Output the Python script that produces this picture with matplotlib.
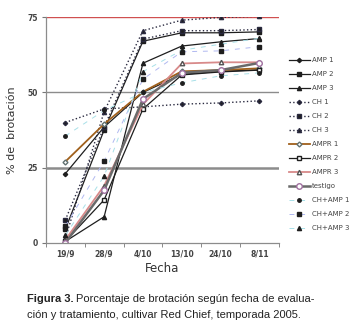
import matplotlib
matplotlib.use('Agg')
import matplotlib.pyplot as plt
import numpy as np

# fechas de evaluacion y porcentaje de brotacion por tratamiento
fechas = ['19/9', '28/9', '4/10', '13/10', '24/10', '8/11']

amp1 = [23, 38.5, 50, 56, 57, 57.5]
amp2 = [4.5, 37.5, 67, 69.8, 69.8, 70.1]
amp3 = [0.5, 8.7, 59.7, 65.4, 66.8, 67.9]
ch1 = [40, 44.5, 45.2, 46.1, 46.5, 47.2]
ch2 = [7.6, 38.5, 67.7, 70.5, 70.5, 70.9]
ch3 = [1.5, 43.6, 70.5, 74, 74.9, 75.3]
ampr1 = [27, 39.5, 50.2, 57, 57.4, 58]
ampr2 = [0.5, 14.3, 44.5, 55.8, 56.8, 57.4]
ampr3 = [1, 19, 46, 59.6, 60, 60]
testigo = [0, 17.5, 47.8, 56.5, 57.4, 59.8]
champ1 = [35.5, 44, 50, 53.2, 55.5, 56.5]
champ2 = [5.5, 27.2, 54.4, 63.5, 63.8, 65.2]
champ3 = [2.5, 22.2, 56.9, 64, 66, 68]

fig = plt.figure(figsize=(3.53, 3.36), dpi=100)
ax = fig.add_axes([0.130, 0.277, 0.660, 0.672])
x = np.arange(len(fechas))

dark = '#1e1e1e'
series = [
    ('AMP 1', amp1, dict(color=dark, ls='-', lw=0.9, marker='D', ms=2.2, mfc=dark)),
    ('AMP 2', amp2, dict(color=dark, ls='-', lw=0.9, marker='s', ms=3.5, mfc=dark)),
    ('AMP 3', amp3, dict(color=dark, ls='-', lw=0.9, marker='^', ms=3, mfc=dark)),
    ('CH 1', ch1, dict(color='#2a2a40', ls=':', lw=1.0, marker='D', ms=2.2, mfc=dark)),
    ('CH 2', ch2, dict(color='#2a2a40', ls=':', lw=1.0, marker='s', ms=3.5, mfc=dark)),
    ('CH 3', ch3, dict(color='#2a2a40', ls=':', lw=1.0, marker='^', ms=3, mfc=dark)),
    ('AMPR 1', ampr1, dict(color='#a0601c', ls='-', lw=1.3, marker='D', ms=2.5, mfc='white', mec='#607070')),
    ('AMPR 2', ampr2, dict(color=dark, ls='-', lw=0.9, marker='s', ms=3.5, mfc='white', mec=dark)),
    ('AMPR 3', ampr3, dict(color='#d88a8a', ls='-', lw=1.3, marker='^', ms=3.2, mfc='white', mec='#555555')),
    ('testigo', testigo, dict(color='#6a6a6a', ls='-', lw=1.8, marker='o', ms=4, mfc='white', mec='#a070a0')),
    ('CH+AMP 1', champ1, dict(color='#a8e0e8', ls=(0, (5, 6)), lw=0.7, marker='o', ms=2.5, mfc=dark, mec=dark)),
    ('CH+AMP 2', champ2, dict(color='#b0b8f0', ls=(0, (5, 6)), lw=0.7, marker='s', ms=3.5, mfc=dark, mec=dark)),
    ('CH+AMP 3', champ3, dict(color='#a8e0e8', ls=(0, (5, 6)), lw=0.7, marker='^', ms=3, mfc=dark, mec=dark)),
]

for name, vals, st in series:
    ax.plot(x, vals, label=name, **st)

# lineas horizontales de referencia
ax.axhline(25, color='#8c8c8c', lw=1.8, zorder=0)
ax.axhline(50, color='#8c8c8c', lw=1.0, zorder=0)
ax.axhline(75, color='#d05050', lw=1.0, zorder=0)

ax.set_xlim(-0.5, 5.5)
ax.set_ylim(0, 75)
ax.set_yticks([0, 25, 50, 75])
ax.set_xticks(x)
ax.set_xticklabels(fechas)
ax.set_xticks(np.arange(-0.5, 6, 1), minor=True)
ax.tick_params(axis='x', which='major', length=0, pad=5, labelsize=5.5, labelcolor='#444444')
ax.tick_params(axis='x', which='minor', length=3, color='#777777', direction='out')
ax.tick_params(axis='y', length=3, color='#777777', labelsize=5.5, labelcolor='#444444', pad=3)
for lab in ax.get_xticklabels() + ax.get_yticklabels():
    lab.set_fontweight('bold')

for s in ['top', 'right']:
    ax.spines[s].set_visible(False)
for s in ['left', 'bottom']:
    ax.spines[s].set_color('#8c8c8c')
    ax.spines[s].set_linewidth(0.9)

ax.set_ylabel('% de  brotación', fontsize=8, color='#333333', labelpad=7)
ax.set_xlabel('Fecha', fontsize=8.5, color='#333333', labelpad=2)

leg = fig.legend(loc='upper left', bbox_to_anchor=(0.81, 0.838), frameon=False,
                 fontsize=5.0, handlelength=3.1, handletextpad=0.3,
                 labelspacing=1.15, borderaxespad=0)
for t in leg.get_texts():
    t.set_color('#444444')

# pie de figura: "Figura 3." en negrita y el resto a continuacion
cap_font = ['Liberation Sans', 'DejaVu Sans']
fs = 8.0
t1 = fig.text(0.076, 0.101, 'Figura 3.', fontsize=fs, fontweight='bold',
              family=cap_font, color='#222222')
fig.canvas.draw()
bb = t1.get_window_extent()
x2 = (bb.x1 + 3) / fig.bbox.width
fig.text(x2, 0.101, 'Porcentaje de brotación según fecha de evalua-', fontsize=fs,
         family=cap_font, color='#222222')
fig.text(0.076, 0.054, 'ción y tratamiento, cultivar Red Chief, temporada 2005.', fontsize=fs,
         family=cap_font, color='#222222')

fig.savefig('out.png', dpi=100)
